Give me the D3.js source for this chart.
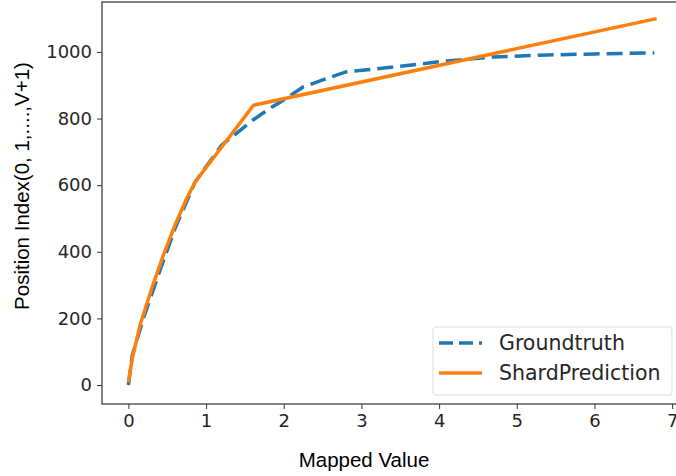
<!DOCTYPE html>
<html>
<head>
  <meta charset="utf-8">
  <script src="https://cdn.jsdelivr.net/npm/d3@7"></script>
  <style>
body { margin: 0; background: #fff; }
.tick text { font: 18px "DejaVu Sans", sans-serif; fill: #262626; }
.tick line { stroke: #333; }
.axis-label { font: 20.5px "Liberation Sans", Arial, sans-serif; fill: #000; }
.legend text { font: 20.5px "DejaVu Sans", sans-serif; fill: #262626; }
  </style>
</head>
<body>
<svg width="676" height="476"></svg>
<script>

// groundtruth (dashed blue)
const gtX = [0, 0.05, 0.2, 0.4, 0.6, 0.86, 1.2, 1.6, 1.85, 2.0, 2.25, 2.55, 2.8, 3.5, 4.1, 4.7, 5.4, 6.0, 6.77];
const gtY = [0, 90, 205, 340, 470, 610, 720, 795, 835, 856, 895, 920, 940, 957, 973, 985, 991, 994, 997];

// shard prediction (orange)
const spX = [0, 0.05, 0.15, 0.3, 0.45, 0.6, 0.75, 0.86, 1.61, 6.8];
const spY = [8, 80, 180, 290, 390, 480, 560, 610, 840, 1100];

const xTicks = [0, 1, 2, 3, 4, 5, 6, 7];
const yTicks = [0, 200, 400, 600, 800, 1000];

const svg = d3.select("svg");
const mLeft = 102, mRight = 683, mTop = 2, mBottom = 404;

const x = d3.scaleLinear().domain([-0.34, 7.14]).range([mLeft, mRight]);
const y = d3.scaleLinear().domain([-57, 1150]).range([mBottom, mTop]);

// frame
svg.append("rect")
   .attr("x", mLeft).attr("y", mTop)
   .attr("width", mRight - mLeft).attr("height", mBottom - mTop)
   .attr("fill", "none").attr("stroke", "#333").attr("stroke-width", 1.2);

svg.append("g")
   .attr("transform", `translate(0,${mBottom})`)
   .call(d3.axisBottom(x).tickValues(xTicks).tickSize(5).tickPadding(5).tickFormat(d3.format("d")))
   .call(g => g.select(".domain").remove());

svg.append("g")
   .attr("transform", `translate(${mLeft},0)`)
   .call(d3.axisLeft(y).tickValues(yTicks).tickSize(5).tickPadding(5).tickFormat(d3.format("d")))
   .call(g => g.select(".domain").remove());

const line = d3.line().x(d => x(d[0])).y(d => y(d[1]));

svg.append("path")
   .datum(d3.zip(gtX, gtY))
   .attr("d", line)
   .attr("fill", "none")
   .attr("stroke", "#1f77b4")
   .attr("stroke-width", 3.5)
   .attr("stroke-dasharray", "16,7");

svg.append("path")
   .datum(d3.zip(spX, spY))
   .attr("d", line)
   .attr("fill", "none")
   .attr("stroke", "#ff7f0e")
   .attr("stroke-width", 3.5)
   .attr("stroke-linejoin", "round");

svg.append("text")
   .attr("class", "axis-label")
   .attr("x", 364).attr("y", 467)
   .attr("text-anchor", "middle")
   .text("Mapped Value");

svg.append("text")
   .attr("class", "axis-label")
   .attr("transform", "translate(29,186) rotate(-90)")
   .attr("text-anchor", "middle")
   .text("Position Index(0, 1,....,V+1)");

// legend
const legend = svg.append("g").attr("class", "legend");
legend.append("rect")
      .attr("x", 433).attr("y", 327).attr("width", 239).attr("height", 68)
      .attr("rx", 3)
      .attr("fill", "#fff").attr("fill-opacity", 0.8)
      .attr("stroke", "#ddd");

const items = [
  { name: "Groundtruth", color: "#1f77b4", dash: "14,6" },
  { name: "ShardPrediction", color: "#ff7f0e", dash: null }
];

items.forEach((it, i) => {
  const ly = 343 + i * 30;
  legend.append("line")
        .attr("x1", 439).attr("x2", 482)
        .attr("y1", ly).attr("y2", ly)
        .attr("stroke", it.color).attr("stroke-width", 3.5)
        .attr("stroke-dasharray", it.dash);
  legend.append("text")
        .attr("x", 499).attr("y", ly + 7)
        .text(it.name);
});
</script>
</body>
</html>
